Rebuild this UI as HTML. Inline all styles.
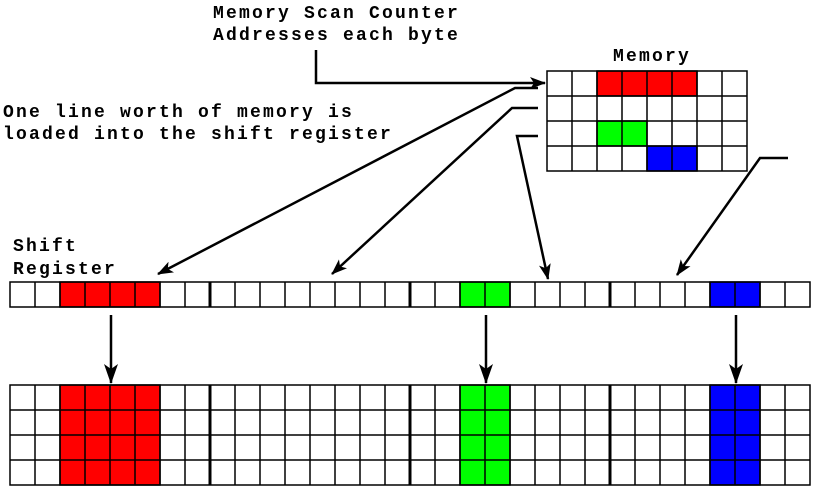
<!DOCTYPE html>
<html><head><style>
html,body{margin:0;padding:0;background:#fff;}
svg text{font-family:"Liberation Mono","Courier New",monospace;font-weight:bold;font-size:18px;letter-spacing:2.2px;fill:#000;}
</style></head><body>
<svg width="819" height="489" viewBox="0 0 819 489" xmlns="http://www.w3.org/2000/svg">
<defs>
<marker id="ah" markerWidth="16" markerHeight="12" refX="15" refY="6" orient="auto" markerUnits="userSpaceOnUse" viewBox="0 0 16 12">
<path d="M0,0 L16,6 L0,12 L4,6 z" fill="#000"/></marker>
<marker id="ahb" markerWidth="20" markerHeight="14" refX="19" refY="7" orient="auto" markerUnits="userSpaceOnUse" viewBox="0 0 20 14">
<path d="M0,0 L20,7 L0,14 L5,7 z" fill="#000"/></marker>
</defs>
<text x="213" y="18">Memory Scan Counter</text>
<text x="213" y="40">Addresses each byte</text>
<text x="3" y="117">One line worth of memory is</text>
<text x="3" y="139">loaded into the shift register</text>
<text x="613" y="61">Memory</text>
<text x="13" y="251">Shift</text>
<text x="13" y="274">Register</text>

<g stroke="#000" stroke-width="1.5">
<rect x="597" y="71" width="100" height="25" fill="#f00"/>
<rect x="597" y="121" width="50" height="25" fill="#0f0"/>
<rect x="647" y="146" width="50" height="25" fill="#00f"/>
<rect x="547" y="71" width="200" height="100" fill="none"/>
<path d="M572 71V171M597 71V171M622 71V171M647 71V171M672 71V171M697 71V171M722 71V171M547 96H747M547 121H747M547 146H747" fill="none"/>
</g>

<g stroke="#000" stroke-width="1.5">
<rect x="60" y="282" width="100" height="25" fill="#f00"/>
<rect x="460" y="282" width="50" height="25" fill="#0f0"/>
<rect x="710" y="282" width="50" height="25" fill="#00f"/>
<rect x="10" y="282" width="800" height="25" fill="none"/>
<rect x="60" y="385" width="100" height="100" fill="#f00"/>
<rect x="460" y="385" width="50" height="100" fill="#0f0"/>
<rect x="710" y="385" width="50" height="100" fill="#00f"/>
<rect x="10" y="385" width="800" height="100" fill="none"/>
<path fill="none" d="M10 410H810M10 435H810M10 460H810
M35 282V307M60 282V307M85 282V307M110 282V307M135 282V307M160 282V307M185 282V307
M235 282V307M260 282V307M285 282V307M310 282V307M335 282V307M360 282V307M385 282V307
M435 282V307M460 282V307M485 282V307M510 282V307M535 282V307M560 282V307M585 282V307
M635 282V307M660 282V307M685 282V307M710 282V307M735 282V307M760 282V307M785 282V307
M35 385V485M60 385V485M85 385V485M110 385V485M135 385V485M160 385V485M185 385V485
M235 385V485M260 385V485M285 385V485M310 385V485M335 385V485M360 385V485M385 385V485
M435 385V485M460 385V485M485 385V485M510 385V485M535 385V485M560 385V485M585 385V485
M635 385V485M660 385V485M685 385V485M710 385V485M735 385V485M760 385V485M785 385V485"/>
<path fill="none" stroke-width="3" d="M210 282V307M410 282V307M610 282V307M210 385V485M410 385V485M610 385V485"/>
</g>

<g stroke="#000" stroke-width="2.5" fill="none">
<path d="M316 50V83H545" marker-end="url(#ah)"/>
<path d="M538 88H515L158 274" marker-end="url(#ah)"/>
<path d="M538 108H512L332 274" marker-end="url(#ah)"/>
<path d="M538 136H517L548 279" marker-end="url(#ah)"/>
<path d="M788 158H760L677 275" marker-end="url(#ah)"/>
<path d="M111 315V383" marker-end="url(#ahb)"/>
<path d="M486 315V383" marker-end="url(#ahb)"/>
<path d="M736 315V383" marker-end="url(#ahb)"/>
</g>
</svg>
</body></html>
